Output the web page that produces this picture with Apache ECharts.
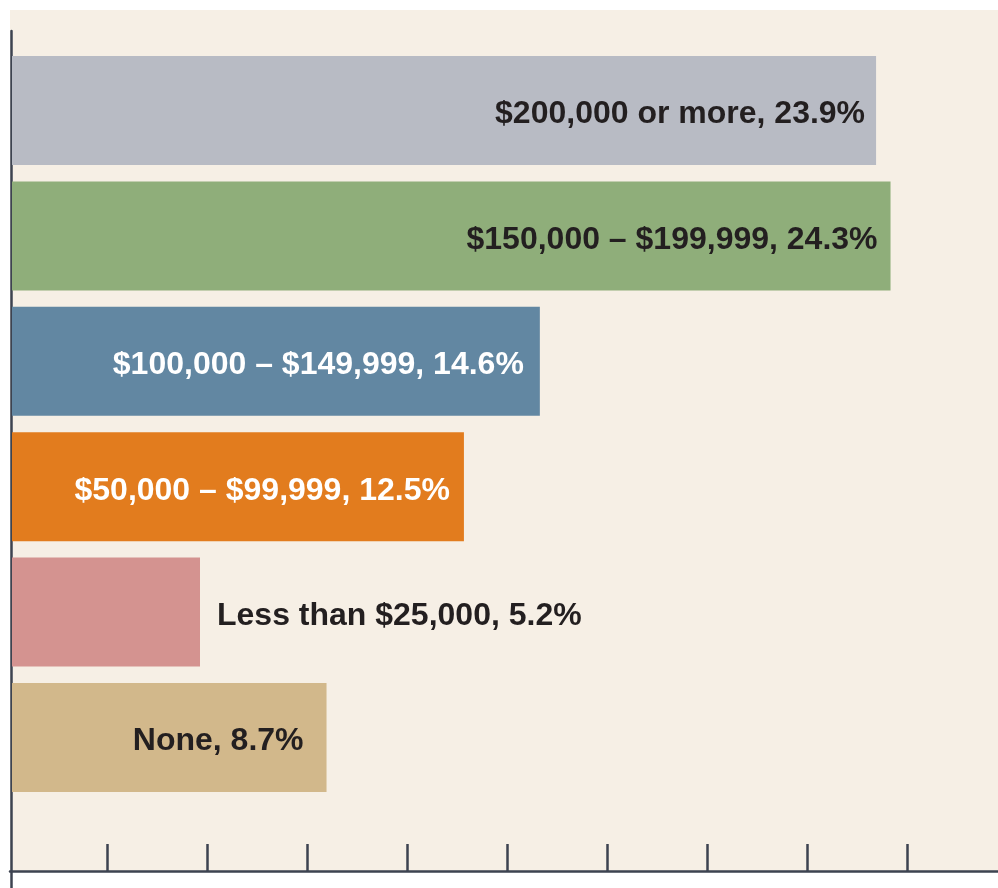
<!DOCTYPE html>
<html>
<head>
<meta charset="utf-8">
<script src="https://cdn.jsdelivr.net/npm/echarts@6/dist/echarts.min.js"></script>
<style>
html,body{margin:0;padding:0;background:#ffffff;}
#chart{width:998px;height:888px;}
</style>
</head>
<body>
<div id="chart"></div>
<script>
// Data (top to bottom)
var categories = ["$200,000 or more", "$150,000 \u2013 $199,999", "$100,000 \u2013 $149,999", "$50,000 \u2013 $99,999", "Less than $25,000", "None"];
var values = [23.9, 24.3, 14.6, 12.5, 5.2, 8.7];
var barColors = ["#b8bbc4", "#8fae7a", "#6287a2", "#e27c1e", "#d49390", "#d2b88b"];
var labelColors = ["#231f20", "#231f20", "#ffffff", "#ffffff", "#231f20", "#231f20"];
var labelPositions = ["insideRight", "insideRight", "insideRight", "insideRight", "right", "insideRight"];
var labelDistances = [11, 13, 16, 14, 17, 23];
var tickValues = [1, 2, 3, 4, 5, 6, 7, 8, 9];

var chart = echarts.init(document.getElementById('chart'), null, {renderer: 'canvas'});

var seriesData = values.map(function (v, i) {
  return {
    value: v,
    itemStyle: {color: barColors[i]},
    label: {
      position: labelPositions[i],
      distance: labelDistances[i],
      color: labelColors[i]
    }
  };
});

var axisColor = '#3d4350';

var option = {
  backgroundColor: '#ffffff',
  animation: false,
  graphic: [{
    type: 'rect',
    z: -100,
    silent: true,
    shape: {x: 10, y: 10, width: 990, height: 861},
    style: {fill: '#f6efe5'}
  }],
  grid: [
    {left: 12, top: 47.8, height: 752.4, width: 940, containLabel: false},
    {left: 10, top: 31, right: 0, bottom: 0, containLabel: false}
  ],
  xAxis: [
    {
      gridIndex: 0, type: 'value', min: 0, max: 26,
      show: false
    },
    {
      gridIndex: 1, type: 'value', min: 0.025, max: 9.905,
      position: 'bottom', offset: -17,
      axisLine: {show: true, lineStyle: {color: axisColor, width: 2.5}},
      axisTick: {show: true, inside: true, length: 27, customValues: tickValues, lineStyle: {color: axisColor, width: 2.5}},
      axisLabel: {show: false},
      splitLine: {show: false}
    }
  ],
  yAxis: [
    {
      gridIndex: 0, type: 'category', data: categories, inverse: true,
      show: false
    },
    {
      gridIndex: 1, type: 'value', min: 0, max: 1,
      position: 'left', offset: -1,
      axisLine: {show: true, lineStyle: {color: axisColor, width: 2.5}},
      axisTick: {show: false},
      axisLabel: {show: false},
      splitLine: {show: false}
    }
  ],
  series: [{
    type: 'bar',
    xAxisIndex: 0,
    yAxisIndex: 0,
    data: seriesData,
    barWidth: 109,
    label: {
      show: true,
      fontFamily: '"Liberation Sans", Arial, sans-serif',
      fontWeight: 'bold',
      fontSize: 32,
      offset: [0, 4],
      formatter: function (p) { return categories[p.dataIndex] + ', ' + values[p.dataIndex] + '%'; }
    }
  }]
};

chart.setOption(option);
</script>
</body>
</html>
